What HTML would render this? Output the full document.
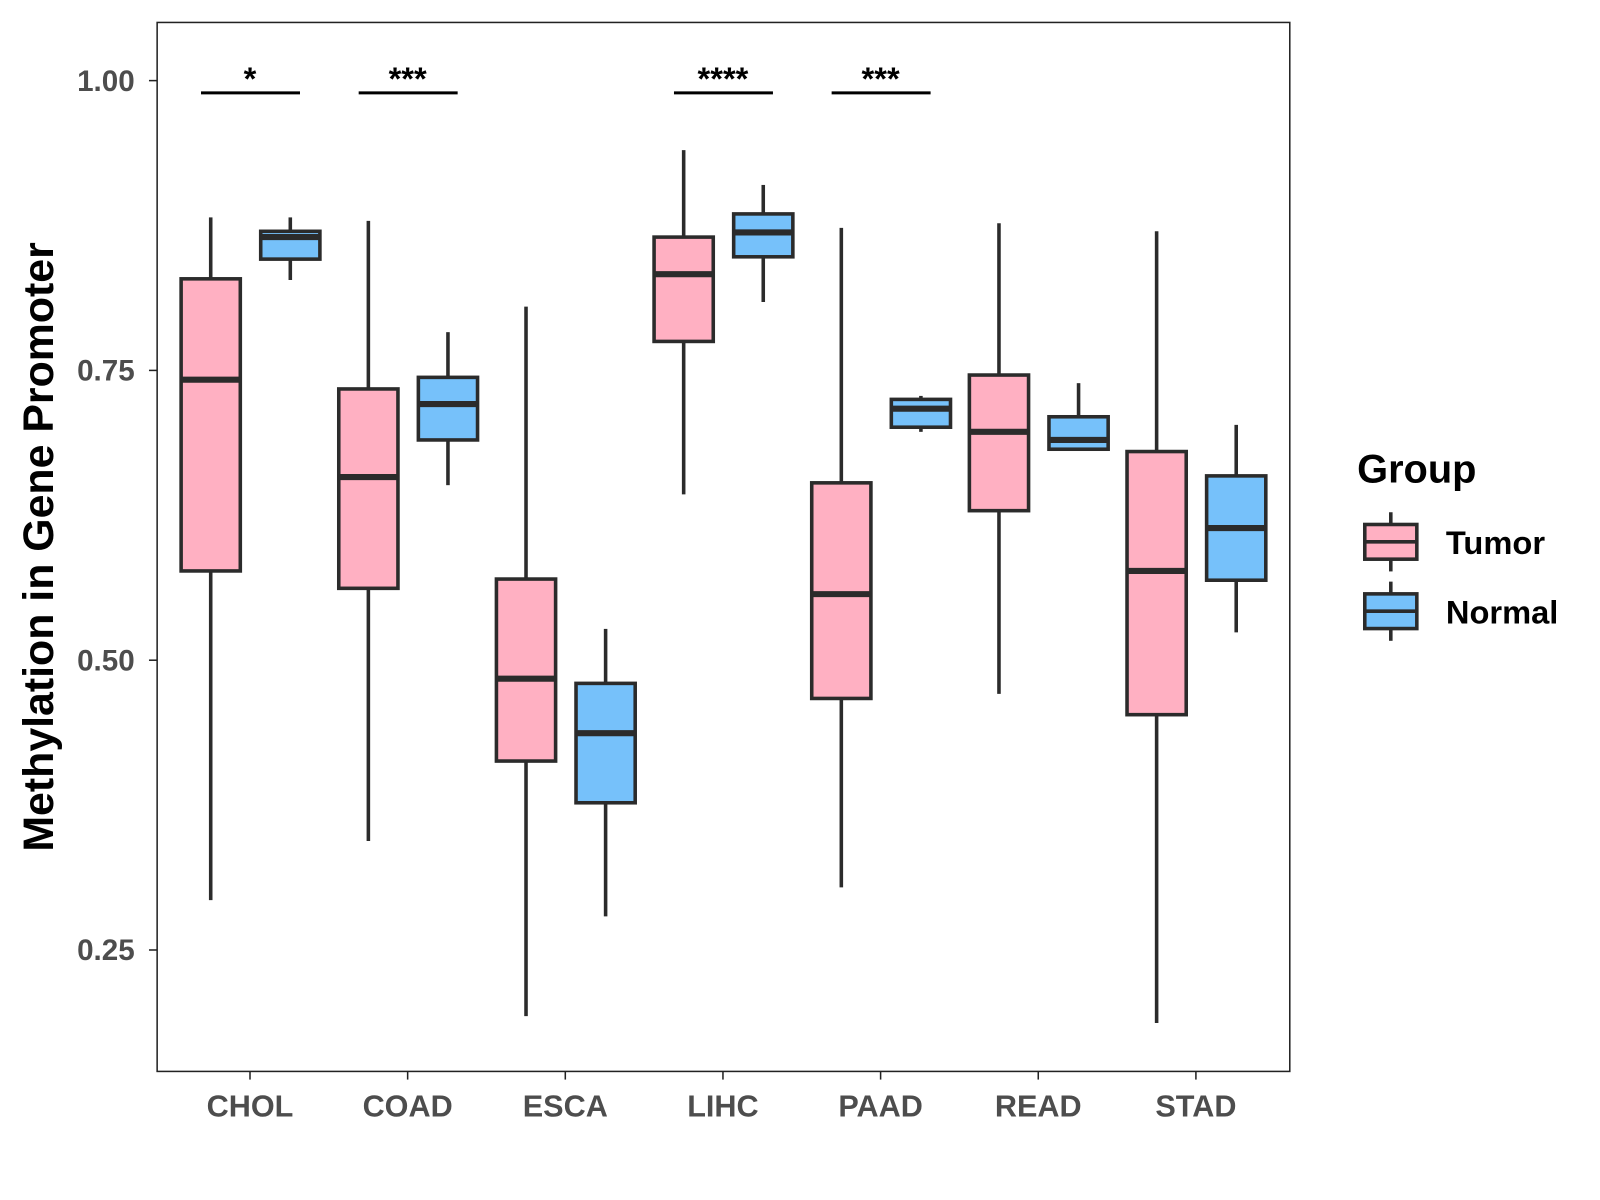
<!DOCTYPE html>
<html><head><meta charset="utf-8"><style>
html,body{margin:0;padding:0;background:#fff;}
svg{display:block;font-family:"Liberation Sans",Arial,sans-serif;}
</style></head><body>
<svg id="chart" width="1600" height="1200" viewBox="0 0 1600 1200">
<g transform="scale(1.0204)">
<rect x="154" y="22" width="1110" height="1028" fill="#fff" stroke="#222" stroke-width="1.5"/>
<g id="marks"></g>
<text transform="translate(52,536) rotate(-90)" text-anchor="middle" font-size="42" font-weight="bold" fill="#000">Methylation in Gene Promoter</text>
<g>
<text x="1330" y="473" font-size="39" font-weight="bold" fill="#000">Group</text>
<g>
<line x1="1363" y1="502" x2="1363" y2="560" stroke="#2b2b2b" stroke-width="3.5"/>
<rect x="1337.5" y="514" width="51" height="34" fill="#FFB0C2" stroke="#2b2b2b" stroke-width="3.5"/>
<line x1="1337.5" y1="531" x2="1388.5" y2="531" stroke="#2b2b2b" stroke-width="3.5"/>
<text x="1417" y="543" font-size="32" font-weight="bold" fill="#000">Tumor</text></g>
<g>
<line x1="1363" y1="570" x2="1363" y2="628" stroke="#2b2b2b" stroke-width="3.5"/>
<rect x="1337.5" y="582" width="51" height="34" fill="#76C1FA" stroke="#2b2b2b" stroke-width="3.5"/>
<line x1="1337.5" y1="599" x2="1388.5" y2="599" stroke="#2b2b2b" stroke-width="3.5"/>
<text x="1417" y="611" font-size="32" font-weight="bold" fill="#000">Normal</text></g>
</g>
</g>
</svg>
<script>
const categories=["CHOL","COAD","ESCA","LIHC","PAAD","READ","STAD"];
// [low, q1, median, q3, high]
const tumorStats=[[0.293,0.577,0.742,0.829,0.882],[0.344,0.562,0.658,0.734,0.879],[0.193,0.413,0.484,0.570,0.805],[0.643,0.775,0.833,0.865,0.940],[0.304,0.467,0.557,0.653,0.873],[0.471,0.629,0.697,0.746,0.877],[0.187,0.453,0.577,0.680,0.870]];
const normalStats=[[0.828,0.846,0.865,0.870,0.882],[0.651,0.690,0.721,0.744,0.783],[0.279,0.377,0.437,0.480,0.527],[0.809,0.848,0.869,0.885,0.910],[0.697,0.701,0.717,0.725,0.728],[0.682,0.682,0.690,0.710,0.739],[0.524,0.569,0.614,0.659,0.703]];
const signif=["*","***","","****","***","",""];
const yTicks=[0.25,0.50,0.75,1.00];
const yTickLabels=["0.25","0.50","0.75","1.00"];

const NS="http://www.w3.org/2000/svg";
const g=document.getElementById('marks');
function y(v){return 79+(1-v)*1136;}
function xc(i){return 245+i*154.5;}
function mk(tag,attrs,parent){const e=document.createElementNS(NS,tag);for(const k in attrs)e.setAttribute(k,attrs[k]);(parent||g).appendChild(e);return e;}

yTicks.forEach((t,i)=>{
  const l=mk('line',{x1:146,x2:154,y1:y(t),y2:y(t),stroke:'#222','stroke-width':1.5});
  
  
  const tx=mk('text',{x:132,y:y(t)+10,'text-anchor':'end','font-size':29,'font-weight':'bold',fill:'#4d4d4d'});
  tx.textContent=yTickLabels[i];
  
  
});
categories.forEach((c,i)=>{
  const x=xc(i);
  const l=mk('line',{x1:x,x2:x,y1:1050,y2:1058,stroke:'#222','stroke-width':1.5});
  
  
  const tx=mk('text',{x:x,y:1094,'text-anchor':'middle','font-size':30,'font-weight':'bold',fill:'#4d4d4d'});
  tx.textContent=c;
  
  
});
function box(cx,s,fill,name){
  const grp=mk('g',{});
  
  
  const hw=29;
  mk('line',{x1:cx,x2:cx,y1:y(s[0]),y2:y(s[1]),stroke:'#2b2b2b','stroke-width':3.5},grp);
  mk('line',{x1:cx,x2:cx,y1:y(s[3]),y2:y(s[4]),stroke:'#2b2b2b','stroke-width':3.5},grp);
  mk('rect',{x:cx-hw,y:y(s[3]),width:hw*2,height:Math.max(0,y(s[1])-y(s[3])),fill:fill,stroke:'#2b2b2b','stroke-width':3.5},grp);
  mk('line',{x1:cx-hw,x2:cx+hw,y1:y(s[2]),y2:y(s[2]),stroke:'#2b2b2b','stroke-width':6},grp);
}
categories.forEach((c,i)=>{
  const x=xc(i);
  box(x-38.5,tumorStats[i],'#FFB0C2','box-tumor-'+c.toLowerCase());
  box(x+39.5,normalStats[i],'#76C1FA','box-normal-'+c.toLowerCase());
  if(signif[i]){
    const l=mk('line',{x1:x-48,x2:x+49,y1:91,y2:91,stroke:'#000','stroke-width':3});
    
    
    const t=mk('text',{x:x,y:88,'text-anchor':'middle','font-size':32,'font-weight':'bold',fill:'#000'});
    t.textContent=signif[i];
    
    
  }
});
</script>
</body></html>
